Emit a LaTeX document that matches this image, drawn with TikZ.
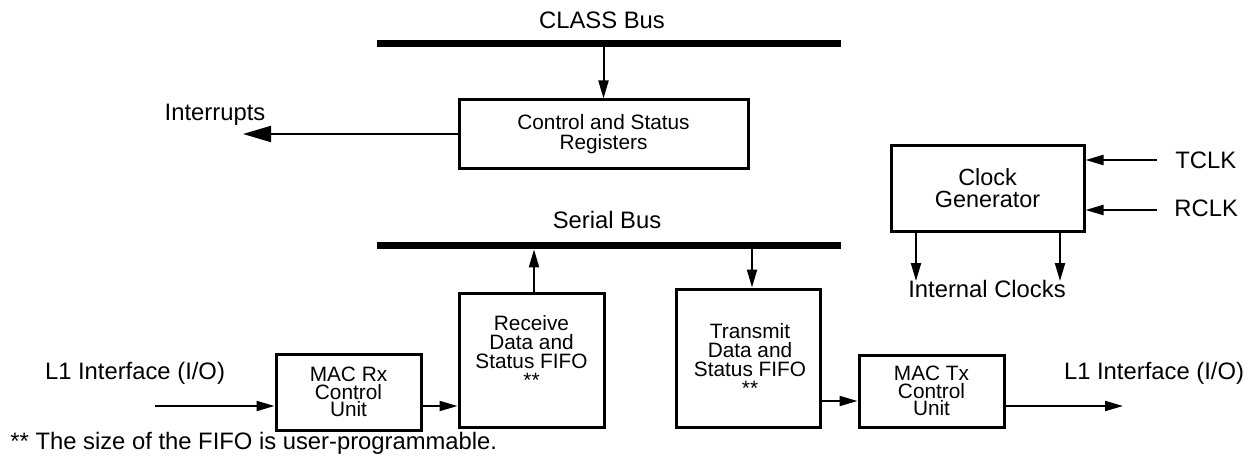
\documentclass[tikz,border=0pt]{standalone}
\usepackage{fontspec}
\setmainfont{Liberation Sans}
\usepackage{tikz}
\usetikzlibrary{arrows.meta}

\begin{document}
\begin{tikzpicture}[x=0.5pt, y=-0.5pt,
      blk/.style={draw=black, line width=1.5pt, fill=white, align=center,
                  inner sep=0pt, font=\fontsize{10.4}{10}\selectfont},
      fifotxt/.style={align=center, inner sep=0pt, font=\fontsize{10.4}{9.5}\selectfont},
      bus/.style={fill=black, inner sep=0pt, minimum width=232pt, minimum height=3.5pt},
      lbl/.style={inner sep=0pt, font=\fontsize{11.9}{14}\selectfont},
      arrow/.style={-{Triangle[length=9pt, width=5pt]}, line width=1pt},
      bigarrow/.style={-{Triangle[length=14pt, width=8pt]}, line width=1pt}
    ]
      \useasboundingbox (0,0) rectangle (1252,460);

      % --- buses ---
      \node[lbl] (classlbl) at (602,20) {CLASS Bus};
      \node[bus] (classbus) at (609,43.5) {};
      \node[lbl] (serlbl) at (607,220) {Serial Bus};
      \node[bus] (serbus) at (609,245.5) {};

      % --- registers ---
      \node[blk, minimum width=144.5pt, minimum height=34pt] (ctrl) at (603.5,134)
            {Control and Status\\Registers};
      \node[lbl] (irqlbl) at (215,115) {Interrupts};
      \coordinate (irqend) at (243,134);

      \draw[arrow] (classbus.south -| ctrl.north) -- (ctrl.north);
      \draw[bigarrow] (ctrl.west) -- (irqend);

      % --- receive path ---
      \node[blk, minimum width=72.5pt, minimum height=38pt,
            font=\fontsize{10.4}{8.7}\selectfont] (macrx) at (348.5,392)
            {MAC Rx\\Control\\Unit};
      \node[blk, minimum width=72.5pt, minimum height=67pt] (recv) at (531.5,360) {};
      \node[fifotxt] (recvtxt) at (531.5,351) {Receive\\Data and\\Status FIFO\\**};
      \node[lbl] (l1inlbl) at (135,373) {L1 Interface (I/O)};
      \coordinate (l1in) at (155,406);

      \draw[arrow] (l1in) -- (l1in -| macrx.west);
      \draw[arrow] (macrx.east |- l1in) -- (recv.west |- l1in);
      \draw[arrow] (recv.north -| 534,0) -- (serbus.south -| 534,0);

      % --- transmit path ---
      \node[blk, minimum width=72pt, minimum height=69pt] (xmit) at (748,358) {};
      \node[fifotxt] (xmittxt) at (750,359) {Transmit\\Data and\\Status FIFO\\**};
      \node[blk, minimum width=72.5pt, minimum height=36pt,
            font=\fontsize{10.4}{8.7}\selectfont] (mactx) at (931.5,391)
            {MAC Tx\\Control\\Unit};
      \node[lbl] (l1outlbl) at (1154,373) {L1 Interface (I/O)};
      \coordinate (l1out) at (1123,406);

      \draw[arrow] (serbus.south -| 752,0) -- (xmit.north -| 752,0);
      \draw[arrow] (xmit.east |- 0,401) -- (mactx.west |- 0,401);
      \draw[arrow] (mactx.east |- l1out) -- (l1out);

      % --- clocks ---
      \node[blk, minimum width=96.5pt, minimum height=43pt,
            font=\fontsize{11.7}{11}\selectfont] (clk) at (987.5,188)
            {Clock\\Generator};
      \node[lbl, anchor=west] (tclklbl) at (1175,160) {TCLK};
      \node[lbl, anchor=west] (rclklbl) at (1174,208) {RCLK};
      \node[lbl] (intlbl) at (987,289) {Internal Clocks};
      \coordinate (tclk) at (1157,160);
      \coordinate (rclk) at (1157,210);
      \coordinate (intclka) at (916,281);
      \coordinate (intclkb) at (1060,281);

      \draw[arrow] (tclk) -- (tclk -| clk.east);
      \draw[arrow] (rclk) -- (rclk -| clk.east);
      \draw[arrow] (clk.south -| intclka) -- (intclka);
      \draw[arrow] (clk.south -| intclkb) -- (intclkb);

      % --- footnote ---
      \node[lbl, anchor=west] (note) at (10,443) {** The size of the FIFO is user-programmable.};
    \end{tikzpicture}
\end{document}
